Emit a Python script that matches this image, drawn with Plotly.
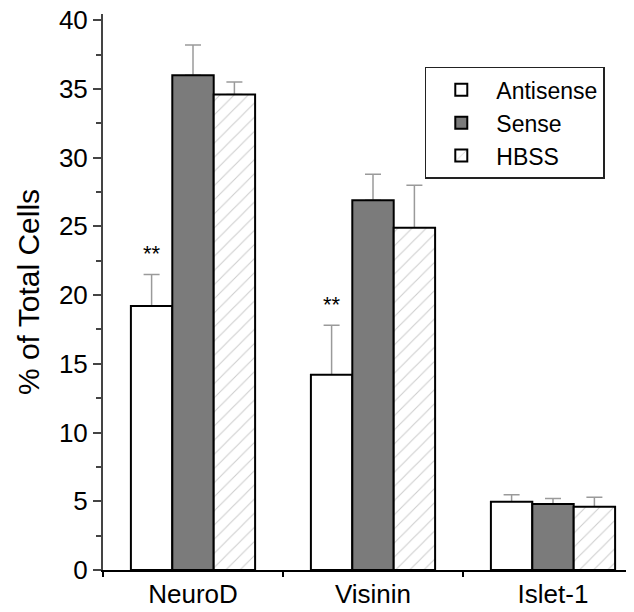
import plotly.graph_objects as go

categories = ["NeuroD", "Visinin", "Islet-1"]
antisense = [19.2, 14.2, 4.97]
antisense_err = [2.3, 3.6, 0.5]
sense = [36.0, 26.9, 4.8]
sense_err = [2.2, 1.9, 0.4]
hbss = [34.6, 24.9, 4.6]
hbss_err = [0.9, 3.1, 0.7]
series_names = ["Antisense", "Sense", "HBSS"]
significance = ["**", "**", ""]
y_ticks = [0, 5, 10, 15, 20, 25, 30, 35, 40]

FONT = "Liberation Sans, Arial, sans-serif"
err_style = dict(type="data", symmetric=False, color="#9a9a9a", thickness=1.5, width=8)

series = [
    (series_names[0], antisense, antisense_err,
     dict(color="white", line=dict(color="black", width=2))),
    (series_names[1], sense, sense_err,
     dict(color="#7b7b7b", line=dict(color="black", width=2))),
    (series_names[2], hbss, hbss_err,
     dict(color="white", line=dict(color="black", width=2),
          pattern=dict(shape="/", fgcolor="#9a9a9a", bgcolor="white",
                       size=10, solidity=0.1))),
]

fig = go.Figure()
# error bars first (so the bar outlines drawn later cover the lower caps)
for k, (name, vals, errs, marker) in enumerate(series):
    fig.add_trace(go.Bar(
        x=categories, y=vals, offsetgroup=str(k), showlegend=False,
        hoverinfo="skip", marker=dict(color="rgba(0,0,0,0)", line=dict(width=0)),
        error_y=dict(array=errs, arrayminus=[0] * len(errs), **err_style),
    ))
for k, (name, vals, errs, marker) in enumerate(series):
    fig.add_trace(go.Bar(
        name=name, x=categories, y=vals, offsetgroup=str(k), marker=marker,
    ))

bargap = 0.31
bar_w = (1 - bargap) / 3
for i, s in enumerate(significance):
    if s:
        fig.add_annotation(
            x=i - bar_w, y=antisense[i] + antisense_err[i],
            text=s, showarrow=False, yanchor="bottom", yshift=6,
            font=dict(size=22, family=FONT, color="black"),
        )

# the page body adds an 8px offset; the figure is sized to fill the rest
fig.update_layout(
    width=626, height=604,
    margin=dict(l=95, r=0, t=6, b=42),
    paper_bgcolor="white", plot_bgcolor="white",
    barmode="group", bargap=bargap, bargroupgap=0,
    font=dict(family=FONT, color="black", size=26),
    showlegend=True,
    legend=dict(
        x=0.606, y=0.905, xanchor="left", yanchor="top",
        bgcolor="white", bordercolor="#222", borderwidth=1.5,
        font=dict(size=23, family=FONT, color="black"),
        tracegroupgap=6, itemwidth=60,
    ),
    xaxis=dict(
        range=[-0.5, 2.45], showline=True, linecolor="black", linewidth=2,
        ticks="outside", tickson="boundaries", ticklen=5, tickcolor="black",
        tickwidth=1.5, tickfont=dict(size=26, family=FONT), showgrid=False,
        zeroline=False, automargin=False, ticklabeloverflow="allow",
    ),
    yaxis=dict(
        range=[0, 40.45], tickvals=y_ticks, showline=True, linecolor="#444",
        linewidth=2, ticks="outside", ticklen=8, tickwidth=1.5, tickcolor="#444",
        tickfont=dict(size=26, family=FONT), showgrid=False, zeroline=False,
        minor=dict(dtick=2.5, tick0=0, ticks="outside", ticklen=5,
                   tickcolor="#444", tickwidth=1.5, showgrid=False),
        title=dict(text="% of Total Cells", font=dict(size=30, family=FONT),
                   standoff=10),
        automargin=False, ticklabeloverflow="allow",
    ),
)

fig.write_html("out.html")
